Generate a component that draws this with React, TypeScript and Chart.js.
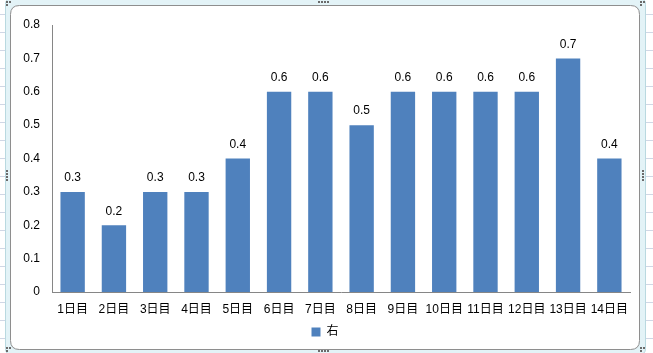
import React, { useEffect, useRef } from "react";
import { Chart, registerables } from "chart.js";

Chart.register(...registerables);

const categories = ["1日目", "2日目", "3日目", "4日目", "5日目", "6日目", "7日目", "8日目", "9日目", "10日目", "11日目", "12日目", "13日目", "14日目"];
const values = [0.3, 0.2, 0.3, 0.3, 0.4, 0.6, 0.6, 0.5, 0.6, 0.6, 0.6, 0.6, 0.7, 0.4];
const seriesName = "右";
const yMin = 0;
const yMax = 0.8;
const yStep = 0.1;

const FONT = '"Liberation Sans", "Noto Sans CJK JP", sans-serif';
const BAR_COLOR = "#4F81BD";

function roundRect(ctx: CanvasRenderingContext2D, x: number, y: number, w: number, h: number, r: number) {
  ctx.beginPath();
  ctx.moveTo(x + r, y);
  ctx.lineTo(x + w - r, y);
  ctx.quadraticCurveTo(x + w, y, x + w, y + r);
  ctx.lineTo(x + w, y + h - r);
  ctx.quadraticCurveTo(x + w, y + h, x + w - r, y + h);
  ctx.lineTo(x + r, y + h);
  ctx.quadraticCurveTo(x, y + h, x, y + h - r);
  ctx.lineTo(x, y + r);
  ctx.quadraticCurveTo(x, y, x + r, y);
  ctx.closePath();
}

const backgroundPlugin = {
  id: "excelBackground",
  afterLayout(chart: any) {
    if (chart.legend) {
      chart.legend.left = 10;
      chart.legend.right = 640;
    }
  },
  beforeDraw(chart: any) {
    const ctx: CanvasRenderingContext2D = chart.ctx;
    const W = chart.width;
    const H = chart.height;
    ctx.save();
    ctx.fillStyle = "#ffffff";
    ctx.fillRect(0, 0, W, H);
    // spreadsheet grid
    ctx.strokeStyle = "#d0d7e5";
    ctx.lineWidth = 1;
    for (let x = 40; x < W; x += 72) {
      ctx.beginPath();
      ctx.moveTo(x + 0.5, 0);
      ctx.lineTo(x + 0.5, H);
      ctx.stroke();
    }
    for (let y = 14; y < H; y += 18) {
      ctx.beginPath();
      ctx.moveTo(0, y + 0.5);
      ctx.lineTo(W, y + 0.5);
      ctx.stroke();
    }
    // selection band
    roundRect(ctx, 5.5, -1.5, 640, 356, 6);
    ctx.fillStyle = "#e3f3f7";
    ctx.fill();
    ctx.strokeStyle = "#b9d9e0";
    ctx.stroke();
    // chart frame
    roundRect(ctx, 10.5, 5.5, 629, 344, 9);
    ctx.fillStyle = "#ffffff";
    ctx.fill();
    ctx.strokeStyle = "#8e8e8e";
    ctx.lineWidth = 1;
    ctx.stroke();
    // handles
    ctx.fillStyle = "#6b6b6b";
    const dot = (x: number, y: number) => ctx.fillRect(x, y, 2, 2);
    const corner = (x: number, y: number) => {
      dot(x, y); dot(x + 3, y); dot(x, y + 3);
    };
    corner(6, 1);
    corner(640, 1);
    corner(6, 347);
    corner(640, 347);
    for (let i = 0; i < 4; i++) {
      dot(318 + i * 3, 1);
      dot(318 + i * 3, 350);
      dot(6, 170 + i * 3);
      dot(642, 170 + i * 3);
    }
    ctx.restore();
  },
};

const dataLabelPlugin = {
  id: "barValueLabels",
  afterDatasetsDraw(chart: any) {
    const ctx: CanvasRenderingContext2D = chart.ctx;
    const meta = chart.getDatasetMeta(0);
    const data = chart.data.datasets[0].data as number[];
    ctx.save();
    ctx.font = `12px ${FONT}`;
    ctx.fillStyle = "#000000";
    ctx.textAlign = "center";
    ctx.textBaseline = "middle";
    meta.data.forEach((bar: any, i: number) => {
      ctx.fillText(String(data[i]), bar.x, bar.y - 14);
    });
    ctx.restore();
  },
};

export default function App() {
  const canvasRef = useRef<HTMLCanvasElement | null>(null);

  useEffect(() => {
    if (!canvasRef.current) return;
    const chart = new Chart(canvasRef.current, {
      type: "bar",
      data: {
        labels: categories,
        datasets: [
          {
            label: seriesName,
            data: values,
            backgroundColor: BAR_COLOR,
            borderWidth: 0,
            barPercentage: 0.59,
            categoryPercentage: 1,
          },
        ],
      },
      options: {
        animation: false,
        responsive: false,
        devicePixelRatio: 1,
        layout: { padding: { left: 0, right: 23, top: 25, bottom: 5 } },
        font: { family: FONT, size: 12 },
        plugins: {
          tooltip: { enabled: false },
          legend: {
            position: "bottom",
            labels: {
              boxWidth: 9,
              boxHeight: 9,
              padding: 10,
              color: "#000000",
              font: { family: FONT, size: 12 },
            },
          },
        },
        scales: {
          x: {
            grid: { display: false, drawTicks: false },
            border: { display: true, color: "#868686", width: 1 },
            ticks: { color: "#000000", padding: 10, font: { family: FONT, size: 12 }, maxRotation: 0, autoSkip: false },
            afterFit: (scale: any) => {
              scale.height = 24;
            },
          },
          y: {
            min: yMin,
            max: yMax,
            grid: { display: false, drawTicks: false },
            border: { display: true, color: "#868686", width: 1 },
            ticks: { stepSize: yStep, color: "#000000", padding: 12, font: { family: FONT, size: 12 } },
            afterFit: (scale: any) => {
              scale.width = 52;
            },
          },
        },
      } as any,
      plugins: [backgroundPlugin, dataLabelPlugin],
    });
    return () => chart.destroy();
  }, []);

  return (
    <div style={{ position: "absolute", left: 0, top: 0, width: 653, height: 353 }}>
      <canvas ref={canvasRef} width={653} height={353} style={{ display: "block" }} />
    </div>
  );
}
